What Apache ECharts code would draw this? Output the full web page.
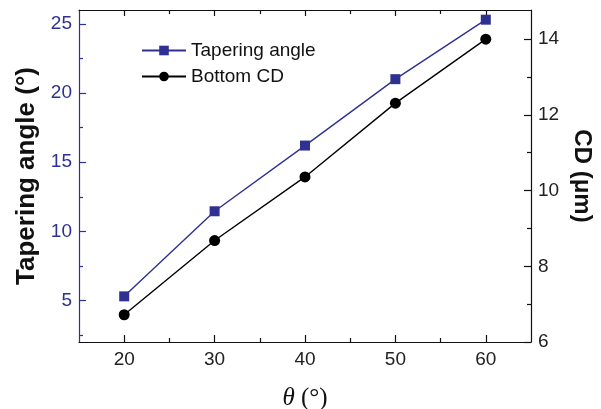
<!DOCTYPE html>
<html>
<head>
<meta charset="utf-8">
<script src="https://cdn.jsdelivr.net/npm/echarts@6/dist/echarts.min.js"></script>
<style>html,body{margin:0;padding:0;background:#fff}#c{width:601px;height:409px}</style>
</head>
<body>
<div id="c"></div>
<script>
var theta = [20, 30, 40, 50, 60];
var taperingAngle = [5.3, 11.45, 16.2, 21.0, 25.3];
var bottomCD = [6.72, 8.68, 10.36, 12.31, 14.0];
var xMajor = [20, 30, 40, 50, 60];
var xMinor = [25, 35, 45, 55];
var yLeftMajor = [5, 10, 15, 20, 25];
var yLeftMinor = [2.5, 7.5, 12.5, 17.5, 22.5];
var yRightMajor = [6, 8, 10, 12, 14];
var yRightMinor = [7, 9, 11, 13];

var BLUE = '#2e3192';
var FONT = 'Liberation Sans, Arial, sans-serif';

function pairs(xs, ys) { return xs.map(function (x, i) { return [x, ys[i]]; }); }

function xAx(pos, ticks, len, showLine, showLabel, extra) {
  var a = {
    type: 'value', position: pos, min: 15, max: 65,
    splitLine: {show: false},
    axisLine: {show: showLine, lineStyle: {color: '#111', width: 1.2}},
    axisTick: {show: true, inside: true, length: len, customValues: ticks, lineStyle: {color: '#111', width: 1.2}},
    axisLabel: showLabel ? {show: true, customValues: ticks, color: '#222', fontSize: 19, fontFamily: FONT, margin: 8} : {show: false}
  };
  for (var k in extra) a[k] = extra[k];
  return a;
}
function yAx(pos, min, max, ticks, len, color, labelColor, showLine, showLabel, extra) {
  var a = {
    type: 'value', position: pos, min: min, max: max,
    splitLine: {show: false},
    axisLine: {show: showLine, lineStyle: {color: color, width: 1.2}},
    axisTick: {show: true, inside: true, length: len, customValues: ticks, lineStyle: {color: color, width: 1.2}},
    axisLabel: showLabel ? {show: true, customValues: ticks, color: labelColor, fontSize: 19, fontFamily: FONT, margin: 7} : {show: false}
  };
  for (var k in extra) a[k] = extra[k];
  return a;
}

var chart = echarts.init(document.getElementById('c'), null, {renderer: 'canvas'});
chart.setOption({
  animation: false,
  backgroundColor: '#fff',
  grid: {left: 79, right: 70, top: 10, bottom: 67, containLabel: false, outerBoundsMode: 'none'},
  legend: {
    left: 136, top: 36, orient: 'vertical',
    itemWidth: 44, itemHeight: 12, itemGap: 7,
    textStyle: {fontSize: 19, fontFamily: FONT, color: '#111'},
    data: ['Tapering angle', 'Bottom CD']
  },
  xAxis: [
    xAx('bottom', xMajor, 7, true, true, {
      name: '{t|θ}{p| (°)}', nameLocation: 'middle', nameGap: 44,
      nameTextStyle: {rich: {
        t: {fontFamily: 'Liberation Serif, Times New Roman, serif', fontStyle: 'italic', fontSize: 25, color: '#111'},
        p: {fontFamily: 'Liberation Serif, Times New Roman, serif', fontSize: 25, color: '#111'}
      }}
    }),
    xAx('bottom', xMinor, 4, false, false, {}),
    xAx('top', xMajor, 6, true, false, {}),
    xAx('top', xMinor, 4, false, false, {})
  ],
  yAxis: [
    yAx('left', 2, 26, yLeftMajor, 7, BLUE, BLUE, true, true, {
      name: 'Tapering angle (°)', nameLocation: 'middle', nameGap: 39, nameRotate: 90,
      nameTextStyle: {fontFamily: FONT, fontWeight: 'bold', fontSize: 26, color: '#111'}
    }),
    yAx('right', 6, 14.77, yRightMajor, 7, '#111', '#222', true, true, {
      name: 'CD (μm)', nameLocation: 'middle', nameGap: 37, nameRotate: -90,
      nameTextStyle: {fontFamily: FONT, fontWeight: 'bold', fontSize: 24, color: '#111'}
    }),
    yAx('left', 2, 26, yLeftMinor, 4, BLUE, BLUE, false, false, {}),
    yAx('right', 6, 14.77, yRightMinor, 4, '#111', '#222', false, false, {})
  ],
  series: [
    {
      name: 'Tapering angle', type: 'line', xAxisIndex: 0, yAxisIndex: 0,
      data: pairs(theta, taperingAngle),
      symbol: 'rect', symbolSize: 10,
      lineStyle: {color: BLUE, width: 1.4},
      itemStyle: {color: BLUE}
    },
    {
      name: 'Bottom CD', type: 'line', xAxisIndex: 0, yAxisIndex: 1,
      data: pairs(theta, bottomCD),
      symbol: 'circle', symbolSize: 11,
      lineStyle: {color: '#000', width: 1.4},
      itemStyle: {color: '#000'}
    }
  ]
});
</script>
</body>
</html>
